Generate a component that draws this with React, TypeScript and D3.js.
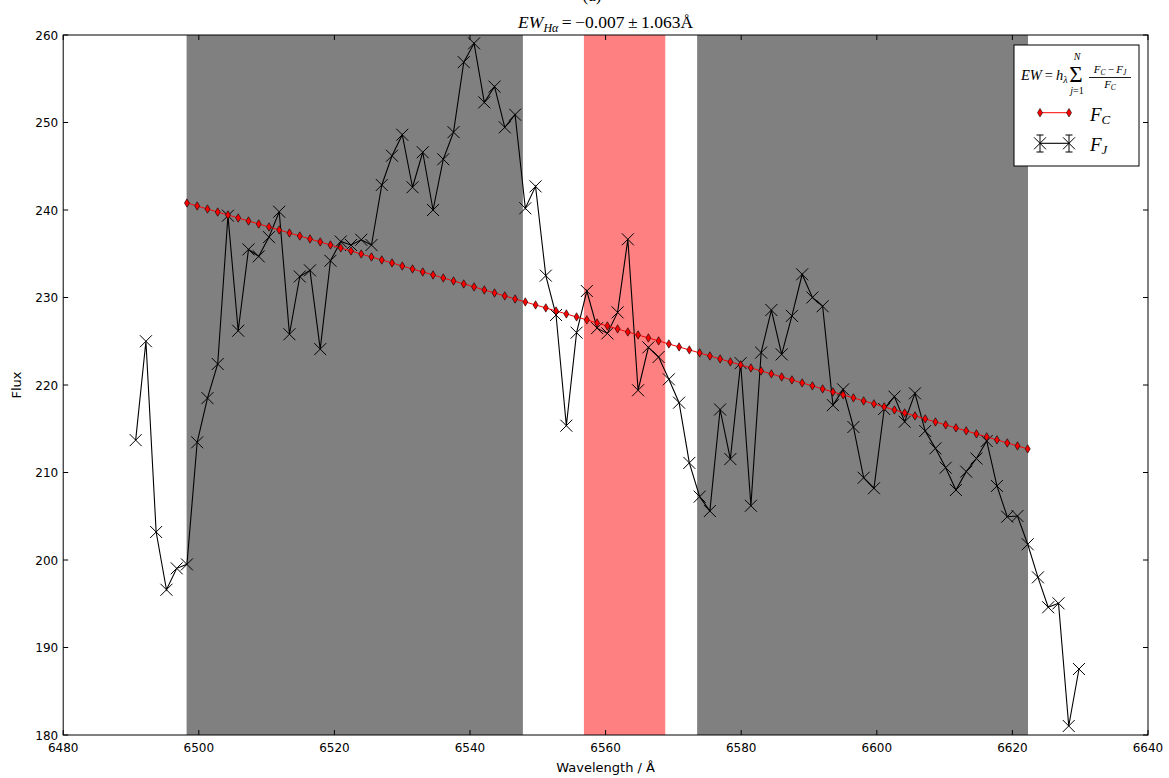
import React from "react";
import * as d3 from "d3";

const wavelengths = [
  6490.69, 6492.2, 6493.71, 6495.23, 6496.74, 6498.25, 6499.76, 6501.28, 6502.79, 6504.3,
  6505.81, 6507.33, 6508.84, 6510.35, 6511.86, 6513.37, 6514.89, 6516.4, 6517.91, 6519.42,
  6520.94, 6522.45, 6523.96, 6525.47, 6526.99, 6528.5, 6530.01, 6531.52, 6533.03, 6534.55,
  6536.06, 6537.57, 6539.08, 6540.6, 6542.11, 6543.62, 6545.13, 6546.65, 6548.16, 6549.67,
  6551.18, 6552.69, 6554.21, 6555.72, 6557.23, 6558.74, 6560.26, 6561.77, 6563.28, 6564.79,
  6566.31, 6567.82, 6569.33, 6570.84, 6572.35, 6573.87, 6575.38, 6576.89, 6578.4, 6579.92,
  6581.43, 6582.94, 6584.45, 6585.97, 6587.48, 6588.99, 6590.5, 6592.01, 6593.53, 6595.04,
  6596.55, 6598.06, 6599.58, 6601.09, 6602.6, 6604.11, 6605.63, 6607.14, 6608.65, 6610.16,
  6611.67, 6613.19, 6614.7, 6616.21, 6617.72, 6619.24, 6620.75, 6622.26, 6623.77, 6625.28,
  6626.8, 6628.31, 6629.82,
];

const fluxJ = [
  213.7, 225.0, 203.2, 196.6, 199.05, 199.5, 213.45, 218.5, 222.4, 239.35,
  226.2, 235.5, 234.7, 236.9, 239.8, 225.8, 232.4, 233.1, 224.1, 234.2,
  236.4, 236.0, 236.6, 236.0, 242.86, 246.2, 248.6, 242.6, 246.6, 240.0,
  245.8, 248.9, 256.9, 259.05, 252.3, 254.1, 249.45, 250.9, 240.2, 242.7,
  232.5, 228.0, 215.35, 225.98, 230.74, 226.5, 225.9, 228.3, 236.65, 219.4,
  224.3, 223.2, 220.65, 217.98, 211.1, 207.24, 205.6, 217.2, 211.54, 222.5,
  206.2, 223.7, 228.57, 223.5, 227.9, 232.65, 230.0, 229.0, 217.7, 219.5,
  215.2, 209.4, 208.2, 217.26, 218.67, 215.8, 219.05, 214.74, 212.76, 210.55,
  208.0, 210.1, 211.6, 213.6, 208.46, 204.95, 205.03, 201.8, 198.02, 194.6,
  195.05, 181.03, 187.54,
];

// continuum F_C, defined on wavelengths[5] .. wavelengths[87]
const contStart = 5;
const fluxC = [
  240.8, 240.46, 240.11, 239.77, 239.43, 239.09, 238.74, 238.4, 238.06, 237.72,
  237.37, 237.03, 236.69, 236.35, 236.0, 235.66, 235.32, 234.97, 234.63, 234.29,
  233.95, 233.6, 233.26, 232.92, 232.58, 232.23, 231.89, 231.55, 231.21, 230.86,
  230.52, 230.18, 229.83, 229.49, 229.15, 228.81, 228.46, 228.12, 227.78, 227.44,
  227.09, 226.75, 226.41, 226.06, 225.72, 225.38, 225.04, 224.69, 224.35, 224.01,
  223.67, 223.32, 222.98, 222.64, 222.3, 221.95, 221.61, 221.27, 220.92, 220.58,
  220.24, 219.9, 219.55, 219.21, 218.87, 218.53, 218.18, 217.84, 217.5, 217.15,
  216.81, 216.47, 216.13, 215.78, 215.44, 215.1, 214.76, 214.41, 214.07, 213.73,
  213.38, 213.04, 212.7,
];

const continuumBands = [
  [6498.2, 6547.8],
  [6573.5, 6622.3],
];
const lineBand = [6556.8, 6568.8];

const xTicks = [6480, 6500, 6520, 6540, 6560, 6580, 6600, 6620, 6640];
const yTicks = [180, 190, 200, 210, 220, 230, 240, 250, 260];

const W = 1169;
const H = 778;
const L = 63.2;
const R = 1148;
const T = 35;
const B = 735;

const MATH = "'Liberation Serif', 'DejaVu Serif', serif";
const SANS = "'DejaVu Sans', sans-serif";

function XMark({ x, y, s = 6 }: { x: number; y: number; s?: number }) {
  return (
    <path
      d={`M${x - s},${y - s}L${x + s},${y + s}M${x - s},${y + s}L${x + s},${y - s}`}
      stroke="#000"
      strokeWidth={1}
      fill="none"
    />
  );
}

function Diamond({ x, y }: { x: number; y: number }) {
  const w = 2.5;
  const h = 4.2;
  return (
    <path
      d={`M${x},${y - h}L${x + w},${y}L${x},${y + h}L${x - w},${y}Z`}
      fill="#ff0000"
      stroke="#000"
      strokeWidth={0.6}
    />
  );
}

export default function App() {
  const x = d3.scaleLinear().domain([6480, 6640]).range([L, R]);
  const y = d3.scaleLinear().domain([180, 260]).range([B, T]);

  const jPts = wavelengths.map((w, i) => [w, fluxJ[i]] as [number, number]);
  const cPts = fluxC.map((f, i) => [wavelengths[contStart + i], f] as [number, number]);

  const line = d3
    .line<[number, number]>()
    .x((d) => x(d[0]))
    .y((d) => y(d[1]));

  const tickLen = 5;

  return (
    <svg
      width={W}
      height={H}
      style={{ position: "absolute", left: 0, top: 0, background: "#fff" }}
    >
      <rect x={0} y={0} width={W} height={H} fill="#fff" />
      <defs>
        <clipPath id="plotclip">
          <rect x={L} y={T} width={R - L} height={B - T} />
        </clipPath>
      </defs>

      {/* upper title line, cut off by the page edge as in the reference */}
      <text x={592} y={1} textAnchor="middle" fontFamily={MATH} fontSize={17}>
        (a)
      </text>

      {/* bands */}
      <g clipPath="url(#plotclip)">
        {continuumBands.map((b, i) => (
          <rect
            key={i}
            x={x(b[0])}
            y={T}
            width={x(b[1]) - x(b[0])}
            height={B - T}
            fill="#808080"
          />
        ))}
        <rect
          x={x(lineBand[0])}
          y={T}
          width={x(lineBand[1]) - x(lineBand[0])}
          height={B - T}
          fill="#ff8080"
        />

        {/* F_J */}
        <path d={line(jPts) || ""} fill="none" stroke="#000" strokeWidth={1.1} />
        {jPts.map((p, i) => (
          <XMark key={i} x={x(p[0])} y={y(p[1])} />
        ))}

        {/* F_C */}
        <path d={line(cPts) || ""} fill="none" stroke="#ff0000" strokeWidth={1} />
        {cPts.map((p, i) => (
          <Diamond key={i} x={x(p[0])} y={y(p[1])} />
        ))}
      </g>

      {/* frame */}
      <rect x={L} y={T} width={R - L} height={B - T} fill="none" stroke="#000" strokeWidth={1} />

      {/* ticks */}
      {xTicks.map((t) => (
        <g key={"x" + t}>
          <line x1={x(t)} x2={x(t)} y1={B} y2={B - tickLen} stroke="#000" />
          <line x1={x(t)} x2={x(t)} y1={T} y2={T + tickLen} stroke="#000" />
          <text x={x(t)} y={B + 17} textAnchor="middle" fontFamily={SANS} fontSize={12}>
            {t}
          </text>
        </g>
      ))}
      {yTicks.map((t) => (
        <g key={"y" + t}>
          <line x1={L} x2={L + tickLen} y1={y(t)} y2={y(t)} stroke="#000" />
          <line x1={R} x2={R - tickLen} y1={y(t)} y2={y(t)} stroke="#000" />
          <text x={L - 5} y={y(t) + 4.5} textAnchor="end" fontFamily={SANS} fontSize={12}>
            {t}
          </text>
        </g>
      ))}

      {/* axis labels */}
      <text x={(L + R) / 2} y={772} textAnchor="middle" fontFamily={SANS} fontSize={13}>
        Wavelength / Å
      </text>
      <text
        transform={`translate(21, ${(T + B) / 2}) rotate(-90)`}
        textAnchor="middle"
        fontFamily={SANS}
        fontSize={13}
      >
        Flux
      </text>

      {/* title */}
      <text x={(L + R) / 2} y={28} textAnchor="middle" fontFamily={MATH} fontSize={17.5}>
        <tspan fontStyle="italic">EW</tspan>
        <tspan fontStyle="italic" fontSize={12} dy={4}>
          Hα
        </tspan>
        <tspan dy={-4}>{"\u2009=\u2009\u22120.007\u2009±\u20091.063Å"}</tspan>
      </text>

      {/* legend */}
      <g>
        <rect x={1014} y={45} width={125} height={121} fill="#fff" stroke="#000" strokeWidth={1} />
        {/* formula: EW = h_λ Σ_{j=1}^{N} (F_C − F_J)/F_C */}
        <text x={1021} y={80} fontFamily={MATH} fontSize={14.5}>
          <tspan fontStyle="italic">EW</tspan>
          <tspan>{"\u2009=\u2009"}</tspan>
          <tspan fontStyle="italic">h</tspan>
          <tspan fontStyle="italic" fontSize={10} dy={3}>
            λ
          </tspan>
        </text>
        <text x={1076} y={82} textAnchor="middle" fontFamily={MATH} fontSize={23}>
          Σ
        </text>
        <text x={1077} y={60} textAnchor="middle" fontFamily={MATH} fontSize={10} fontStyle="italic">
          N
        </text>
        <text x={1077} y={94} textAnchor="middle" fontFamily={MATH} fontSize={10}>
          <tspan fontStyle="italic">j</tspan>=1
        </text>
        <text x={1110} y={73} textAnchor="middle" fontFamily={MATH} fontSize={11}>
          <tspan fontStyle="italic">F</tspan>
          <tspan fontStyle="italic" fontSize={7.5} dy={2}>
            C
          </tspan>
          <tspan dy={-2}>{"\u2009\u2212\u2009"}</tspan>
          <tspan fontStyle="italic">F</tspan>
          <tspan fontStyle="italic" fontSize={7.5} dy={2}>
            J
          </tspan>
        </text>
        <line x1={1089} x2={1131} y1={77.5} y2={77.5} stroke="#000" strokeWidth={0.9} />
        <text x={1110} y={88} textAnchor="middle" fontFamily={MATH} fontSize={11}>
          <tspan fontStyle="italic">F</tspan>
          <tspan fontStyle="italic" fontSize={7.5} dy={2}>
            C
          </tspan>
        </text>

        {/* F_C entry */}
        <line x1={1040} x2={1069} y1={112.7} y2={112.7} stroke="#ff0000" strokeWidth={1} />
        <Diamond x={1040} y={112.7} />
        <Diamond x={1069} y={112.7} />
        <text x={1090} y={121} fontFamily={MATH} fontSize={19}>
          <tspan fontStyle="italic">F</tspan>
          <tspan fontStyle="italic" fontSize={13} dy={3}>
            C
          </tspan>
        </text>

        {/* F_J entry */}
        <line x1={1040} x2={1069} y1={143.3} y2={143.3} stroke="#000" strokeWidth={1.1} />
        {[1040, 1069].map((cx) => (
          <g key={cx}>
            <line x1={cx} x2={cx} y1={135} y2={152} stroke="#000" strokeWidth={1} />
            <line x1={cx - 3.5} x2={cx + 3.5} y1={135} y2={135} stroke="#000" strokeWidth={1} />
            <line x1={cx - 3.5} x2={cx + 3.5} y1={152} y2={152} stroke="#000" strokeWidth={1} />
            <XMark x={cx} y={143.3} />
          </g>
        ))}
        <text x={1090} y={151} fontFamily={MATH} fontSize={19}>
          <tspan fontStyle="italic">F</tspan>
          <tspan fontStyle="italic" fontSize={13} dy={3}>
            J
          </tspan>
        </text>
      </g>
    </svg>
  );
}
